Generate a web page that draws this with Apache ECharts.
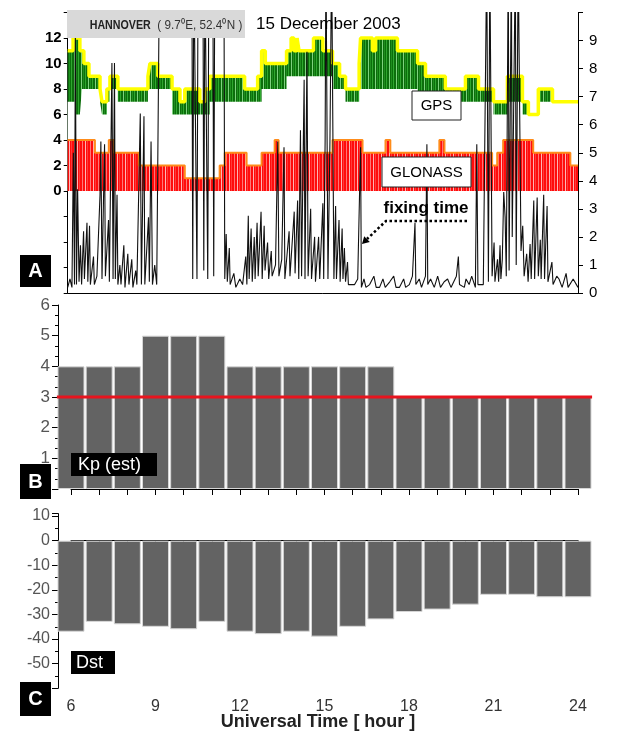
<!DOCTYPE html>
<html>
<head>
<meta charset="utf-8">
<title>Hannover 15 December 2003</title>
<script src="https://cdn.jsdelivr.net/npm/echarts@6/dist/echarts.min.js"></script>
<style>
    html, body { margin: 0; padding: 0; background: #fff; }
    #main { width: 635px; height: 736px; }
</style>
</head>
<body>
<div id="main"></div>
<script>
// ---- panel A : satellites (step values, time in hours UT) ----
var gpsTimes = [6.00,6.19,6.27,6.43,6.50,6.57,6.75,7.14,7.21,7.38,7.49,7.77,8.83,8.90,9.18,9.68,9.96,10.13,10.66,10.84,
    11.01,12.24,12.70,12.84,12.97,13.72,13.88,13.98,14.09,14.16,14.67,15.00,15.34,15.59,15.80,16.28,16.33,16.75,16.86,17.63,
    18.34,18.62,19.32,20.03,20.49,21.02,21.51,22.04,22.25,22.60,23.10,24.00];
var gpsMax  = [11,12,12,11,11,10,9,8,7,8, 9,8,9,10,9,8,7,8,7,8, 9,8,9,11,10,11,12,11,12,11, 12,11,10,9,8,10,12,11,12,11, 10,9,8,9,8,7,9,7,6,8, 7,7];
var gpsBand = [7,7,6,6,8,8,8,7,6,7, 8,7,8,8,8,6,6,6,6,6, 7,7,7,8,8,9,9,9,9,9, 9,9,8,8,7,8,8,8,8,8, 7,7,7,7,7,6,7,6,6,7, 7,7];

// light green drop-outs
var gpsDipTimes = [6.05,6.15,6.43,6.64,6.89,7.03,7.21,7.31,7.42,7.56,7.70,7.88,8.05,8.19,8.33,8.44,8.58,8.72,8.97,9.36,
    9.53,9.81,9.96,10.06,10.20,10.31,10.42,10.52,10.63,10.73,10.91,11.01,11.19,11.36,11.54,11.72,11.89,12.00,12.14,12.42,
    12.60,12.98,13.16,13.33,13.51,13.65,13.93,14.11,14.36,14.54,14.89,15.10,15.38,15.52,15.70,15.77,15.94,16.12,16.47,16.68,
    16.90,17.10,17.35,17.56,17.81,17.98,18.12,18.30,18.51,18.69,18.80,18.91,19.01,19.11,19.22,19.46,19.64,19.81,20.10,20.27,
    20.51,20.69,20.86,21.12,21.29,21.57,21.75,21.93,22.17,22.38,22.66,22.88,23.20,23.37,23.55,23.73];
var gpsDipValues = [5,4.8,4,7,6,6,5,5,5,6,6,6,5,6,5,6,5,6,7,7,
    7,5,5,5,5,5,5,5,5,5,6,6,6,6,5,6,6,5,6,5,
    5,6,6,7,6,6,8,6,7,8,6,6,4.8,6,4.5,4.2,6,6,7,6,
    6,7,6,7,6,6,5,7,6,5.5,5,5,5,5,5,6,5,6,6,7,
    5,5,6,6,5,7,6,6,5,5,6,6,6,6,6,6];

var glnTimes = [6.00,6.96,7.45,7.63,8.51,10.13,11.36,11.54,12.31,12.84,13.30,13.44,15.34,16.40,17.21,17.38,19.11,19.29,20.97,21.15,21.36,22.42,23.73,24.00];
var glnCount = [4,3,4,3,2,1,2,3,2,3,4,3,4,3,4,3,4,3,2,3,4,3,2,2];

// ambiguity fixing time [min]; 12 = off scale
var fixTimes = [6.00,6.08,6.15,6.20,6.24,6.27,6.31,6.35,6.40,6.45,6.49,6.56,6.59,6.68,6.71,6.77,6.80,6.91,6.94,7.03,
    7.14,7.17,7.21,7.30,7.33,7.44,7.47,7.56,7.60,7.65,7.68,7.74,7.77,7.84,7.88,7.98,8.02,8.12,8.16,8.26,
    8.30,8.40,8.44,8.56,8.60,8.69,8.72,8.85,8.88,8.94,8.99,9.07,9.14,9.24,10.38,10.41,10.45,10.52,10.56,10.60,
    10.77,10.80,10.84,10.91,10.94,10.98,11.12,11.15,11.19,11.51,11.54,11.59,11.63,11.70,11.73,11.86,11.93,12.07,12.17,12.28,
    12.32,12.37,12.40,12.47,12.51,12.58,12.61,12.68,12.72,12.82,12.86,12.93,12.96,13.05,13.09,13.18,13.21,13.33,13.41,13.45,
    13.55,13.63,13.66,13.81,13.84,13.99,14.02,14.11,14.15,14.21,14.25,14.34,14.37,14.44,14.48,14.57,14.60,14.71,14.74,14.85,
    14.89,15.00,15.03,15.08,15.11,15.15,15.18,15.25,15.31,15.36,15.39,15.45,15.48,15.57,15.61,15.68,15.71,15.76,15.80,15.87,
    15.90,16.12,16.23,16.33,16.36,16.45,16.52,16.65,16.80,16.88,17.00,17.12,17.20,17.36,17.50,17.58,17.70,17.85,17.92,18.05,
    18.16,18.25,18.28,18.40,18.48,18.62,18.67,18.70,18.80,18.93,19.05,19.15,19.28,19.40,19.52,19.71,19.78,19.82,19.99,20.05,
    20.16,20.25,20.38,20.43,20.47,20.66,20.78,20.84,20.89,20.94,20.97,21.04,21.07,21.16,21.20,21.25,21.28,21.33,21.38,21.43,
    21.47,21.54,21.57,21.65,21.68,21.79,21.82,21.89,21.94,21.99,22.05,22.10,22.19,22.24,22.31,22.35,22.44,22.47,22.56,22.60,
    22.67,22.70,22.79,22.82,22.91,22.94,23.08,23.12,23.25,23.33,23.44,23.58,23.65,23.83,24.00];
var fixMinutes = [0.2,0.5,0.2,5.0,0.3,9.2,0.3,3.7,0.4,1.7,0.3,2.2,0.5,2.5,0.4,2.4,0.3,1.3,0.3,0.6,
    3.5,5.4,0.5,5.3,0.6,2.6,0.4,8.2,0.5,8.2,0.5,3.5,0.3,1.0,0.3,1.7,0.2,1.4,0.3,1.2,
    0.2,0.8,0.3,6.4,0.3,6.3,0.3,2.7,0.4,5.4,0.3,1.0,0.3,12,12,0.5,12,12,0.5,12,
    12,0.8,12,12,0.5,12,12,0.6,12,12,0.5,2.1,0.4,1.6,0.3,0.7,0.2,0.5,0.3,1.3,
    0.3,2.75,0.5,2.3,0.4,2.0,0.5,2.5,0.6,2.9,0.5,2.4,0.8,1.8,0.5,1.5,0.6,1.0,5.4,0.6,
    1.2,5.2,0.5,2.2,0.6,2.9,0.7,3.3,0.5,5.8,0.6,7.6,0.5,8.6,0.6,3.0,0.5,2.0,0.4,2.0,
    0.5,3.2,0.5,5.4,12,12,0.5,5.4,12,12,0.5,3.1,0.5,2.6,0.4,2.3,0.5,1.6,0.4,1.1,
    0.3,0.3,0.5,5.2,0.2,0.5,0.2,0.3,0.6,0.2,0.2,0.5,0.2,0.4,0.6,0.2,0.2,0.5,0.2,0.3,
    0.6,2.5,0.3,0.5,0.2,0.6,5.3,0.3,0.5,0.2,0.6,0.2,0.4,0.5,0.2,0.6,1.3,0.3,0.2,0.5,
    0.3,0.6,0.2,5.3,0.3,0.3,12,0.4,12,12,0.6,1.8,0.4,1.2,0.4,1.7,0.5,1.2,3.6,2.7,
    0.6,12,0.8,12,2.0,12,1.0,12,12,1.5,2.4,0.6,1.4,0.4,1.75,0.5,3.3,0.5,3.4,0.6,
    1.9,0.5,3.5,0.5,3.1,0.4,1.1,0.3,0.6,0.5,0.2,0.7,0.2,0.5,0.2];

// ---- panels B and C : hourly indices ----
var hours = [6,7,8,9,10,11,12,13,14,15,16,17,18,19,20,21,22,23,24];
var kpIndex = [4,4,4,5,5,5,4,4,4,4,4,4,3,3,3,3,3,3,3];
var kpQuiet = 3;
var dstIndex = [-37,-33,-34,-35,-36,-33,-37,-38,-37,-39,-35,-32,-29,-28,-26,-22,-22,-23,-23];
var timeTickLabels = [6,9,12,15,18,21,24];

var FONT = 'Liberation Sans, Arial, sans-serif';

function pairs(xs, ys) {
    return xs.map(function (x, i) { return [x, ys[i]]; });
}
function stepAt(xs, ys, t) {
    var v = ys[0];
    for (var i = 0; i < xs.length; i++) {
        if (xs[i] <= t) v = ys[i];
    }
    return v;
}
// vertical stripe fill, like the dense sample lines of the original plot
function stripes(colors) {
    var c = document.createElement('canvas');
    c.width = colors.length;
    c.height = 4;
    var ctx = c.getContext('2d');
    colors.forEach(function (col, i) {
        ctx.fillStyle = col;
        ctx.fillRect(i, 0, 1, 4);
    });
    return {image: c, repeat: 'repeat'};
}

var dipData = gpsDipTimes.map(function (t, i) {
    return [t, gpsDipValues[i], stepAt(gpsTimes, gpsMax, t)];
});

var myChart = echarts.init(document.getElementById('main'), null, {renderer: 'canvas'});

function plainAxis(extra) {
    var a = {
        type: 'value',
        splitLine: {show: false},
        axisLine: {show: true, lineStyle: {color: '#000', width: 1}},
        axisTick: {show: true, lineStyle: {color: '#000'}},
        axisLabel: {show: false}
    };
    for (var k in extra) a[k] = extra[k];
    return a;
}

function box(x, y, w, h, fill, stroke) {
    return {
        type: 'rect', z: 100,
        shape: {x: x, y: y, width: w, height: h},
        style: {fill: fill, stroke: stroke || null, lineWidth: stroke ? 1 : 0}
    };
}
function label(x, y, text, font, color, align, extra) {
    var g = {
        type: 'text', z: 101, x: x, y: y,
        style: {text: text, font: font, fill: color || '#000', textAlign: align || 'center', textVerticalAlign: 'middle'}
    };
    for (var k in extra) g[k] = extra[k];
    return g;
}

var option = {
    animation: false,
    backgroundColor: '#fff',
    grid: [
        {left: 67.7, top: 12.5, width: 510.3, height: 280.5, outerBoundsMode: 'none'},
        {left: 71, top: 305, width: 507, height: 184, outerBoundsMode: 'none'},
        {left: 71, top: 513.6, width: 507, height: 174.7, outerBoundsMode: 'none'}
    ],
    xAxis: [
        plainAxis({gridIndex: 0, min: 6, max: 24, show: false}),
        plainAxis({gridIndex: 0, min: 6, max: 24, position: 'top', axisTick: {show: false}}),
        plainAxis({gridIndex: 1, min: 6, max: 24, interval: 1, offset: 2,
            axisTick: {show: true, length: 6, lineStyle: {color: '#000'}}}),
        plainAxis({gridIndex: 2, min: 6, max: 24, interval: 1,
            axisTick: {show: true, length: 6, lineStyle: {color: '#000'}},
            axisLabel: {show: true, margin: 10, color: '#333', fontSize: 16, fontFamily: FONT,
                formatter: function (v) { return timeTickLabels.indexOf(v) >= 0 ? String(v) : ''; }}})
    ],
    yAxis: [
        plainAxis({gridIndex: 0, min: -8, max: 14, interval: 2,
            axisTick: {show: true, length: 4, lineStyle: {color: '#000'}},
            axisLabel: {show: true, margin: 6, color: '#000', fontSize: 15, fontWeight: 'bold', fontFamily: FONT,
                formatter: function (v) { return (v >= 0 && v <= 12) ? String(v) : ''; }}}),
        plainAxis({gridIndex: 0, min: 0, max: 10, interval: 1, position: 'right',
            axisTick: {show: true, length: 5, lineStyle: {color: '#000'}},
            axisLabel: {show: true, margin: 11, color: '#000', fontSize: 15, fontFamily: FONT,
                formatter: function (v) { return v < 10 ? String(v) : ''; }}}),
        plainAxis({gridIndex: 1, min: 0, max: 6, interval: 1, offset: 13,
            axisTick: {show: true, length: 6, lineStyle: {color: '#000'}},
            minorTick: {show: true, splitNumber: 3, length: 3, lineStyle: {color: '#000'}},
            axisLabel: {show: true, margin: 8, color: '#555', fontSize: 17, fontFamily: FONT,
                formatter: function (v) { return v > 0 ? String(v) : ''; }}}),
        plainAxis({gridIndex: 2, min: -60, max: 11, interval: 10, offset: 13,
            axisTick: {show: true, length: 6, lineStyle: {color: '#000'}},
            minorTick: {show: true, splitNumber: 2, length: 3, lineStyle: {color: '#000'}},
            axisLabel: {show: true, margin: 8, color: '#555', fontSize: 16, fontFamily: FONT,
                formatter: function (v) { return (v % 10 === 0 && v > -60) ? String(v) : ''; }}})
    ],
    series: [
        {   // GPS: green body under the upper envelope
            type: 'line', xAxisIndex: 0, yAxisIndex: 0, step: 'end', symbol: 'none',
            data: pairs(gpsTimes, gpsMax),
            lineStyle: {width: 0},
            areaStyle: {color: stripes(['#0c6e0c', '#2fa82f', '#0c6e0c', '#0c6e0c', '#7fd27f', '#0c6e0c', '#1f8f1f']), opacity: 1}
        },
        {   // white below the dense green band
            type: 'line', xAxisIndex: 0, yAxisIndex: 0, step: 'end', symbol: 'none',
            data: pairs(gpsTimes, gpsBand),
            lineStyle: {width: 0}, areaStyle: {color: '#fff', opacity: 1}
        },
        {   // GPS drop-outs
            type: 'custom', xAxisIndex: 0, yAxisIndex: 0, data: dipData,
            renderItem: function (params, api) {
                var p1 = api.coord([api.value(0), api.value(1)]);
                var p2 = api.coord([api.value(0), api.value(2)]);
                return {type: 'line', shape: {x1: p1[0], y1: p1[1], x2: p2[0], y2: p2[1]},
                    style: {stroke: '#3cb83c', lineWidth: 1.4}};
            }
        },
        {   // GLONASS
            type: 'line', xAxisIndex: 0, yAxisIndex: 0, step: 'end', symbol: 'none',
            data: pairs(glnTimes, glnCount),
            lineStyle: {color: '#ff8c1a', width: 2},
            areaStyle: {color: stripes(['#ff0c0c', '#ff0c0c', '#ff7676', '#ff0c0c', '#ff0c0c', '#ffb4b4', '#ff0c0c', '#ff3a3a']), opacity: 1}
        },
        {   // GPS upper envelope
            type: 'line', xAxisIndex: 0, yAxisIndex: 0, step: 'end', symbol: 'none',
            data: pairs(gpsTimes, gpsMax),
            lineStyle: {color: '#ffff00', width: 3.5}
        },
        {   // ambiguity fixing time
            type: 'line', xAxisIndex: 0, yAxisIndex: 1, symbol: 'none',
            data: pairs(fixTimes, fixMinutes),
            lineStyle: {color: '#111', width: 1.1}
        },
        {
            type: 'bar', xAxisIndex: 2, yAxisIndex: 2, barWidth: 27, clip: false,
            data: pairs(hours, kpIndex),
            itemStyle: {color: '#636363', borderColor: '#d6d6d6', borderWidth: 1}
        },
        {   // quiet level line across all bars
            type: 'custom', xAxisIndex: 2, yAxisIndex: 2, clip: false, z: 5,
            data: [[hours[0] - 0.5, hours[hours.length - 1] + 0.5, kpQuiet]],
            renderItem: function (params, api) {
                var p1 = api.coord([api.value(0), api.value(2)]);
                var p2 = api.coord([api.value(1), api.value(2)]);
                return {type: 'line', shape: {x1: p1[0], y1: p1[1], x2: p2[0], y2: p2[1]},
                    style: {stroke: '#e8141e', lineWidth: 3}};
            }
        },
        {
            type: 'bar', xAxisIndex: 3, yAxisIndex: 3, barWidth: 27, clip: false,
            data: pairs(hours, dstIndex),
            itemStyle: {color: '#636363', borderColor: '#d6d6d6', borderWidth: 1}
        }
    ],
    graphic: [
        box(67, 10, 178, 28, '#d9d9d9'),
        label(76, 25, 'HANNOVER', 'bold 13px ' + FONT, '#222', 'left', {scaleX: 0.82, originX: 76, originY: 25}),
        label(143, 25, '( 9.7\u2070E, 52.4\u2070N )', '13px ' + FONT, '#333', 'left', {scaleX: 0.9, originX: 143, originY: 25}),
        label(256, 24, '15 December 2003', '17px ' + FONT, '#000', 'left'),
        box(412, 91, 49, 29, '#fff', '#222'),
        label(436.5, 106, 'GPS', '15px ' + FONT, '#000'),
        box(382, 157, 89, 30, '#fff', '#222'),
        label(426.5, 172.5, 'GLONASS', '15px ' + FONT, '#000'),
        label(426, 208, 'fixing time', 'bold 17px ' + FONT, '#000'),
        {type: 'polyline', z: 101, shape: {points: [[467, 221], [386, 221], [367, 239]]},
            style: {stroke: '#000', lineWidth: 2.5, lineDash: [2.5, 2.5], fill: null}},
        {type: 'polygon', z: 101, shape: {points: [[362, 244], [369.8, 242.1], [364.2, 236.3]]},
            style: {fill: '#000'}},
        label(33, 113, 'Number of Satellites', 'bold 16px ' + FONT, '#000', 'center', {rotation: Math.PI / 2, originX: 33, originY: 113}),
        {type: 'text', z: 101, x: 620, y: 162, rotation: Math.PI / 2, originX: 620, originY: 162,
            style: {text: '{b|Ambiguity  Fixing  Time }{n|[ min ]}', textAlign: 'center', textVerticalAlign: 'middle',
                rich: {b: {font: 'bold 16px ' + FONT, fill: '#000'}, n: {font: '16px ' + FONT, fill: '#000'}}}},
        label(25, 398, 'Kp index [ step ]', '16px ' + FONT, '#555', 'center', {rotation: Math.PI / 2, originX: 25, originY: 398}),
        label(20, 598, 'Dst index [ nT ]', '16px ' + FONT, '#555', 'center', {rotation: Math.PI / 2, originX: 20, originY: 598}),
        label(318, 722, 'Universal Time [ hour ]', 'bold 18px ' + FONT, '#222'),
        box(20, 255, 31, 32, '#000'),
        label(35.5, 271.5, 'A', 'bold 20px ' + FONT, '#fff'),
        box(20, 464, 31, 35, '#000'),
        label(35.5, 482, 'B', 'bold 20px ' + FONT, '#fff'),
        box(20, 682, 31, 34, '#000'),
        label(35.5, 699.5, 'C', 'bold 20px ' + FONT, '#fff'),
        box(71, 453, 86, 23, '#000'),
        label(78, 465, 'Kp (est)', '18px ' + FONT, '#fff', 'left'),
        box(71, 651, 44, 23, '#000'),
        label(76, 663, 'Dst', '18px ' + FONT, '#fff', 'left')
    ]
};

myChart.setOption(option);
</script>
</body>
</html>
